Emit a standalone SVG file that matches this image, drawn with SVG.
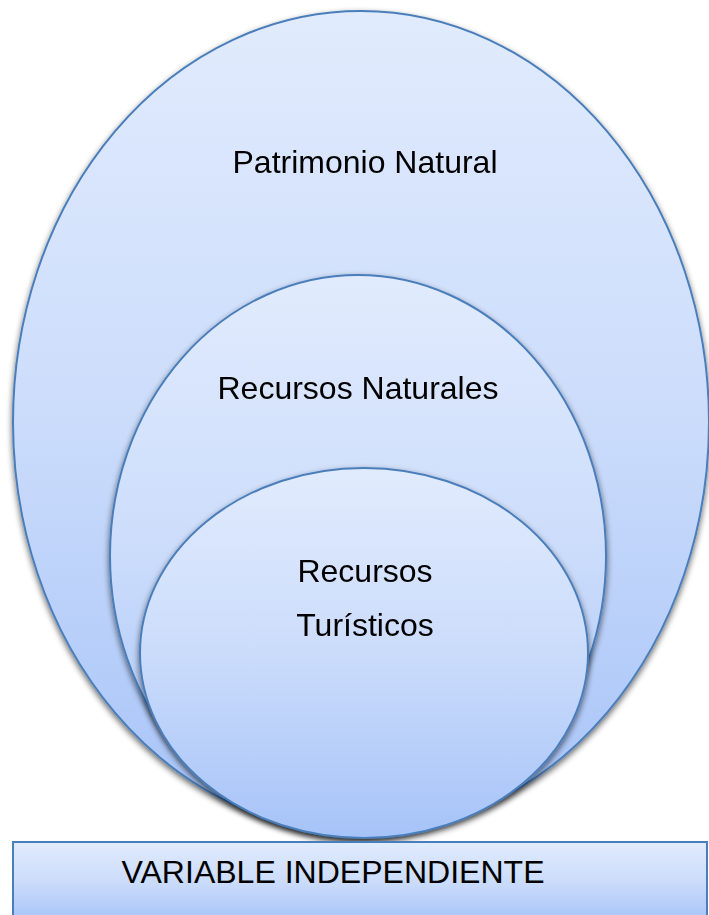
<svg xmlns="http://www.w3.org/2000/svg" width="709" height="915" viewBox="0 0 709 915">
  <defs>
    <linearGradient id="g" x1="0" y1="0" x2="0" y2="1">
      <stop offset="0" stop-color="#e1ebfd"/>
      <stop offset="0.5" stop-color="#cbdcfb"/>
      <stop offset="1" stop-color="#a6c3f8"/>
    </linearGradient>
    <filter id="sh" x="-10%" y="-10%" width="120%" height="125%">
      <feGaussianBlur in="SourceAlpha" stdDeviation="3"/>
      <feOffset dx="0" dy="3" result="b"/>
      <feComponentTransfer><feFuncA type="linear" slope="0.6"/></feComponentTransfer>
      <feMerge><feMergeNode/><feMergeNode in="SourceGraphic"/></feMerge>
    </filter>
  </defs>
  <style>
    .shape { fill: url(#g); stroke: #4a7ebb; stroke-width: 2; }
    .lbl { font-family: "Liberation Sans", Arial, sans-serif; font-size: 32px; fill: #000; text-anchor: middle; }
  </style>
  <rect width="709" height="915" fill="#ffffff"/>
  <g id="patrimonio-natural" filter="url(#sh)">
    <ellipse class="shape" cx="361" cy="422" rx="348" ry="411"/>
    <text class="lbl" x="365" y="173">Patrimonio Natural</text>
  </g>
  <g id="recursos-naturales" filter="url(#sh)">
    <ellipse class="shape" cx="358" cy="556" rx="248" ry="281"/>
    <text class="lbl" x="358" y="399">Recursos Naturales</text>
  </g>
  <g id="recursos-turisticos" filter="url(#sh)">
    <ellipse class="shape" cx="364" cy="653" rx="224" ry="185"/>
    <text class="lbl" x="365" y="582">Recursos</text>
    <text class="lbl" x="365" y="636">Turísticos</text>
  </g>
  <g id="variable-independiente">
    <rect class="shape" x="13" y="842" width="694" height="80"/>
    <text class="lbl" x="333" y="883" textLength="423" lengthAdjust="spacingAndGlyphs">VARIABLE INDEPENDIENTE</text>
  </g>
  <g id="connectors"/>
</svg>
